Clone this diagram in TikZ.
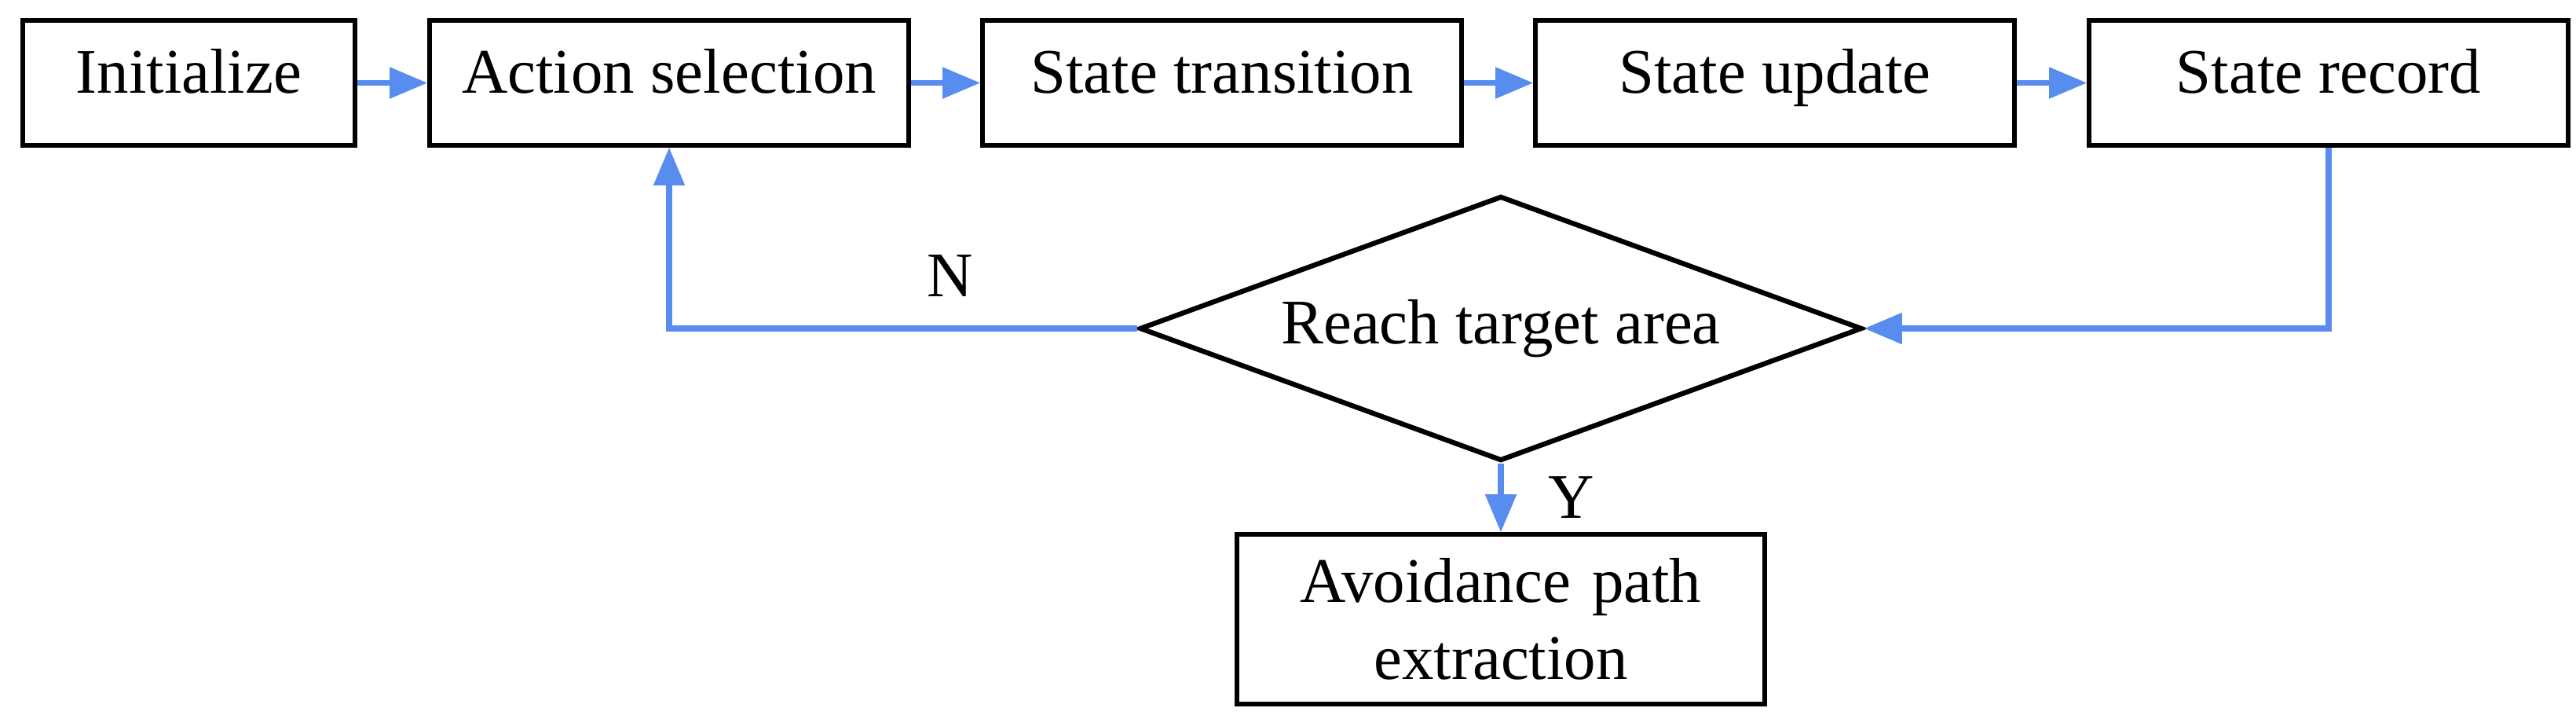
\documentclass[tikz,border=0pt]{standalone}
\usepackage{fontspec}
\setmainfont{Liberation Serif}
\usepackage{tikz}
\usetikzlibrary{shapes.geometric, arrows}
\definecolor{flowblue}{RGB}{88,140,238}
\tikzstyle{process} = [rectangle, minimum width=6.1cm, minimum height=1.59cm, inner sep=0.1cm, text centered, draw=black, line width=1.8pt, font=\fontsize{23}{28}\selectfont]
\tikzstyle{decision} = [diamond, minimum width=9.2cm, minimum height=3.37cm, inner sep=0pt, aspect=2.7, text centered, draw=black, line width=1.8pt, font=\fontsize{23}{28}\selectfont]
\tikzstyle{arrow} = [line width=2.2pt, draw=flowblue, -triangle 45]

\begin{document}
\begin{tikzpicture}[x=1cm, y=1cm]
        \useasboundingbox (0,0) rectangle (32.8,-9.14);
        \node (init) [process, minimum width=4.23cm, text height=2.2ex, text depth=0.6ex] at (2.405,-1.055) {Initialize};
        \node (act) [process, text height=2.2ex, text depth=0.6ex] at (8.52,-1.055) {Action selection};
        \node (trans) [process, text height=2.2ex, text depth=0.6ex] at (15.56,-1.055) {State transition};
        \node (upd) [process, text height=2.2ex, text depth=0.6ex] at (22.6,-1.055) {State update};
        \node (rec) [process, text height=2.2ex, text depth=0.6ex] at (29.65,-1.055) {State record};
        \node (reach) [decision] at (19.11,-4.18) {Reach target area};
        \node (path) [process, minimum width=6.72cm, minimum height=2.16cm, text width=6.3cm, align=center] at (19.11,-7.88) {Avoidance path\\extraction};

        \draw[arrow] (init) -- (act);
        \draw[arrow] (act) -- (trans);
        \draw[arrow] (trans) -- (upd);
        \draw[arrow] (upd) -- (rec);
        \draw[arrow] (rec.south) |- (reach.east);
        \draw[arrow] (reach.west) -| node[pos=0.2, above=0.25cm, font=\fontsize{23}{28}\selectfont] {N} (act.south);
        \draw[arrow] (reach.south) -- node[right=0.45cm, font=\fontsize{23}{28}\selectfont] {Y} (path.north);
\end{tikzpicture}
\end{document}
